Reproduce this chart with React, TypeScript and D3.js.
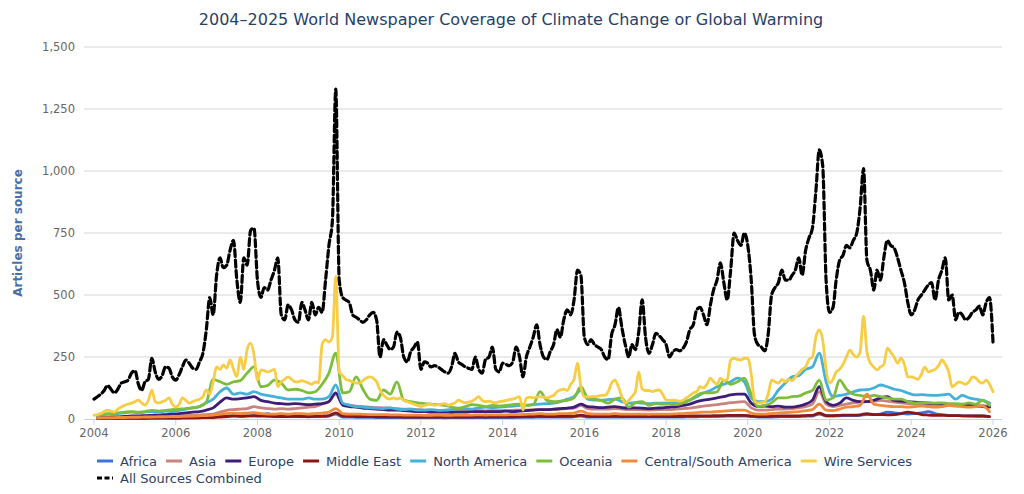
import { useEffect, useRef } from "react";
import * as d3 from "d3";

const WIDTH = 1024;
const HEIGHT = 494;

const title = "2004–2025 World Newspaper Coverage of Climate Change or Global Warming";
const yTitle = "Articles per source";
const yTicks = [0, 250, 500, 750, 1000, 1250, 1500];
const xTickYears = [2004, 2006, 2008, 2010, 2012, 2014, 2016, 2018, 2020, 2022, 2024, 2026];

// monthly, Jan 2004 .. Jan 2026
const allSources = [
  80, 90, 100, 115, 135, 120, 105, 120, 145, 150, 157, 185,
  195, 140, 115, 150, 160, 245, 190, 160, 175, 210, 205, 170,
  157, 180, 210, 238, 225, 205, 200, 230, 266, 360, 490, 420,
  580, 650, 610, 620, 680, 720, 560, 470, 650, 620, 760, 770,
  560, 490, 530, 520, 560, 600, 650, 420, 400, 460, 440, 400,
  390, 470, 440, 400, 470, 420, 450, 430, 560, 700, 800, 1330,
  560, 490, 480, 470, 420, 410, 400, 390, 400, 420, 430, 400,
  250, 320, 300, 280, 290, 350, 330, 250, 230, 270, 290, 310,
  200, 230, 225, 210, 215, 210, 200, 190, 185, 210, 265, 230,
  220, 210, 205, 200, 250, 200, 185, 240, 250, 290, 200, 190,
  225, 220, 215, 230, 290, 250, 170, 250, 290, 330, 380, 300,
  250, 240, 270, 300, 360, 330, 400, 440, 420, 480, 600, 580,
  330, 300, 320, 300, 290, 280, 250, 240, 340, 380, 450, 370,
  300, 250, 300, 280, 350, 480, 330, 265, 300, 345, 335, 320,
  300, 250, 270, 280, 275, 285, 310, 360, 380, 440, 450, 420,
  380, 460, 520, 560, 630, 550, 480, 600, 750, 720, 700, 750,
  700, 560, 340, 300, 290, 275, 340, 500, 530, 550, 600, 560,
  560, 580, 600, 650, 580, 680, 730, 770, 920, 1085, 1020, 560,
  430, 450, 560, 640, 660, 700, 690, 720, 750, 850, 1010, 640,
  600, 520, 600, 560, 650, 720, 700, 690, 650, 600, 550, 470,
  420, 440, 480, 500, 520, 540, 550, 480, 560, 600, 650, 480,
  500, 400, 430, 420, 400, 410, 430, 440, 455, 420, 470, 490,
  310,
];

// monthly, Jan 2004 .. Jan 2026
const wireServices = [
  15, 18, 22, 30, 36, 32, 28, 40, 48, 55, 60, 64,
  70, 76, 65, 56, 75, 117, 70, 65, 70, 75, 85, 60,
  48, 60, 85, 75, 64, 70, 75, 80, 90, 117, 100, 150,
  210, 200, 218, 205, 238, 200, 170, 250, 200, 280, 306, 260,
  157, 198, 195, 190, 195, 200, 130, 150, 160, 170, 160, 150,
  150, 155, 150, 145, 140, 150, 145, 300, 320, 310, 330, 575,
  190, 175, 160, 155, 150, 145, 145, 155, 165, 170, 165, 150,
  117, 95, 85, 80, 85, 80, 85, 75, 70, 65, 60, 55,
  50, 55, 58, 60, 55, 58, 60, 62, 55, 60, 65, 76,
  70, 65, 68, 72, 80, 90, 75, 70, 72, 68, 65, 70,
  72, 75, 78, 80, 85, 90, 36, 85, 88, 85, 88, 90,
  88, 85, 90, 95, 110, 117, 120, 115, 140, 160, 225, 130,
  90, 88, 90, 90, 92, 95, 95, 110, 145, 157, 130, 90,
  64, 75, 90, 110, 190, 120, 115, 115, 110, 115, 117, 100,
  76, 75, 76, 74, 72, 76, 85, 95, 105, 110, 130, 125,
  140, 165, 150, 140, 165, 155, 160, 238, 245, 240, 238, 245,
  245, 180, 76, 64, 66, 70, 100, 157, 150, 145, 160, 150,
  160, 155, 170, 185, 200, 210, 240, 250, 331, 359, 318, 200,
  145, 160, 190, 200, 220, 250, 278, 260, 250, 270, 415, 270,
  225, 210, 198, 210, 220, 286, 270, 250, 225, 245, 220, 170,
  170, 165, 160, 180, 210, 190, 195, 200, 215, 238, 220, 190,
  130, 140, 150, 145, 140, 150, 170, 165, 150, 145, 157, 140,
  110,
];

// every two months, Feb 2004 .. Dec 2025
const northAmerica = [
  15, 18, 20, 22, 25, 28,
  25, 28, 30, 28, 32, 30,
  35, 40, 45, 50, 65, 80,
  110, 125, 100, 105, 100, 110,
  100, 95, 90, 85, 80, 80,
  80, 85, 80, 80, 90, 137,
  64, 56, 50, 48, 45, 44,
  42, 45, 40, 38, 40, 36,
  36, 38, 35, 36, 38, 40,
  42, 40, 45, 48, 45, 48,
  50, 52, 55, 56, 58, 60,
  62, 64, 70, 80, 90, 117,
  80, 76, 76, 78, 80, 70,
  64, 66, 64, 62, 64, 64,
  64, 66, 70, 76, 90, 105,
  115, 130, 140, 150, 165, 150,
  85, 70, 70, 80, 117, 145,
  170, 175, 200, 210, 266, 150,
  90, 95, 100, 110, 117, 118,
  125, 137, 130, 120, 115, 105,
  97, 98, 96, 95, 97, 100,
  80, 95, 85, 80, 75, 64,
];

const oceania = [
  15, 20, 22, 25, 28, 30,
  28, 30, 35, 32, 35, 38,
  40, 42, 45, 50, 68, 160,
  150, 140, 150, 155, 185, 210,
  130, 135, 157, 145, 117, 120,
  115, 105, 110, 140, 185, 266,
  105, 110, 170, 120, 80, 75,
  117, 100, 150, 76, 70, 65,
  62, 60, 58, 55, 48, 44,
  50, 58, 55, 50, 55, 52,
  55, 58, 60, 55, 58, 110,
  75, 70, 72, 75, 85, 130,
  85, 80, 75, 64, 80, 85,
  48, 65, 70, 55, 62, 60,
  60, 58, 65, 76, 95, 105,
  105, 110, 157, 140, 150, 165,
  100, 50, 55, 65, 85, 85,
  90, 92, 105, 115, 157, 76,
  85, 157, 120, 100, 95, 90,
  95, 90, 85, 80, 80, 70,
  64, 65, 66, 64, 65, 62,
  62, 60, 65, 60, 76, 55,
];

const europe = [
  5, 6, 8, 8, 10, 12,
  12, 14, 15, 16, 18, 20,
  22, 25, 28, 30, 36, 45,
  68, 85, 80, 82, 85, 90,
  75, 70, 64, 62, 60, 62,
  60, 58, 60, 62, 70, 105,
  56, 50, 48, 44, 42, 40,
  38, 36, 36, 34, 32, 30,
  30, 28, 28, 28, 27, 28,
  28, 30, 30, 29, 30, 30,
  32, 30, 32, 34, 36, 38,
  38, 40, 42, 44, 48, 60,
  50, 48, 46, 48, 50, 46,
  44, 45, 44, 42, 44, 45,
  48, 50, 55, 60, 70, 76,
  80, 85, 90, 97, 100, 100,
  64, 50, 52, 50, 52, 48,
  48, 52, 60, 76, 130, 70,
  55, 64, 85, 75, 70, 70,
  75, 85, 90, 75, 72, 70,
  68, 66, 64, 62, 60, 58,
  56, 55, 54, 52, 50, 48,
];

const asia = [
  5, 6, 6, 7, 8, 8,
  8, 9, 10, 10, 11, 12,
  12, 14, 15, 16, 18, 20,
  28, 35, 38, 40, 42, 50,
  45, 42, 40, 42, 40, 42,
  45, 48, 50, 60, 70, 100,
  60, 56, 52, 50, 48, 46,
  45, 44, 42, 40, 40, 38,
  36, 35, 34, 34, 33, 32,
  32, 33, 34, 33, 34, 34,
  34, 35, 36, 36, 37, 38,
  38, 38, 40, 42, 44, 55,
  42, 40, 40, 40, 42, 40,
  38, 38, 37, 36, 37, 38,
  38, 40, 42, 44, 48, 52,
  55, 58, 62, 66, 68, 70,
  45, 36, 36, 38, 40, 40,
  42, 45, 50, 60, 110, 60,
  50, 55, 60, 65, 68, 70,
  72, 75, 72, 68, 65, 62,
  60, 60, 58, 58, 56, 58,
  58, 56, 55, 55, 54, 50,
];

const centralSouthAmerica = [
  4, 5, 5, 6, 6, 7,
  7, 8, 8, 9, 9, 10,
  10, 11, 12, 13, 14, 16,
  20, 22, 24, 22, 24, 26,
  22, 20, 20, 22, 20, 22,
  22, 20, 22, 24, 28, 42,
  22, 20, 20, 19, 18, 18,
  18, 17, 17, 16, 16, 16,
  15, 15, 16, 15, 15, 16,
  16, 16, 17, 16, 17, 17,
  17, 18, 18, 19, 20, 22,
  20, 20, 22, 22, 24, 32,
  22, 20, 20, 20, 22, 20,
  20, 20, 20, 19, 20, 20,
  20, 21, 22, 24, 26, 28,
  28, 30, 32, 34, 36, 36,
  24, 20, 20, 22, 24, 26,
  28, 30, 34, 38, 60, 36,
  34, 40, 48, 50, 55, 100,
  60, 55, 52, 50, 50, 48,
  50, 52, 50, 48, 50, 55,
  52, 50, 48, 50, 52, 30,
];

const middleEast = [
  2, 2, 3, 3, 3, 3,
  3, 3, 4, 4, 4, 4,
  4, 5, 5, 5, 6, 6,
  8, 10, 12, 11, 12, 14,
  12, 11, 10, 10, 10, 11,
  10, 10, 11, 12, 14, 25,
  12, 11, 10, 10, 10, 9,
  9, 9, 9, 8, 8, 8,
  8, 8, 8, 8, 8, 8,
  8, 8, 9, 8, 9, 9,
  9, 9, 9, 10, 10, 11,
  10, 10, 11, 11, 12, 16,
  11, 10, 10, 10, 11, 10,
  10, 10, 10, 10, 10, 10,
  10, 10, 11, 12, 12, 13,
  13, 14, 14, 15, 15, 15,
  12, 10, 10, 11, 12, 12,
  12, 13, 14, 15, 24, 14,
  14, 15, 16, 16, 17, 22,
  18, 18, 17, 18, 22, 28,
  24, 18, 16, 15, 15, 14,
  14, 13, 13, 12, 12, 10,
];

const africa = [
  2, 2, 2, 3, 3, 3,
  3, 3, 3, 4, 4, 4,
  4, 5, 5, 6, 7, 8,
  10, 12, 14, 12, 14, 12,
  14, 22, 12, 10, 10, 10,
  10, 9, 10, 10, 12, 20,
  8, 8, 7, 7, 7, 6,
  6, 6, 6, 6, 6, 6,
  6, 6, 6, 5, 6, 6,
  6, 6, 6, 6, 6, 6,
  6, 6, 7, 7, 7, 8,
  8, 8, 8, 8, 9, 12,
  8, 8, 8, 8, 8, 8,
  8, 8, 8, 8, 8, 8,
  8, 8, 8, 9, 9, 10,
  10, 10, 11, 12, 12, 12,
  10, 8, 8, 8, 9, 10,
  10, 10, 11, 12, 20, 12,
  12, 13, 14, 14, 15, 18,
  18, 20, 28, 25, 22, 20,
  22, 25, 30, 22, 18, 15,
  14, 13, 12, 12, 12, 10,
];

type Series = {
  name: string;
  color: string;
  values: number[];
  firstMonth: number;
  step: number;
  dashed?: boolean;
};

const series: Series[] = [
  { name: "Africa", color: "#3b73d9", values: africa, firstMonth: 1, step: 2 },
  { name: "Asia", color: "#c9837f", values: asia, firstMonth: 1, step: 2 },
  { name: "Europe", color: "#3d1d78", values: europe, firstMonth: 1, step: 2 },
  { name: "Middle East", color: "#8c1616", values: middleEast, firstMonth: 1, step: 2 },
  { name: "North America", color: "#45b0d8", values: northAmerica, firstMonth: 1, step: 2 },
  { name: "Oceania", color: "#7dbd3c", values: oceania, firstMonth: 1, step: 2 },
  { name: "Central/South America", color: "#ef8b3d", values: centralSouthAmerica, firstMonth: 1, step: 2 },
  { name: "Wire Services", color: "#f7cd45", values: wireServices, firstMonth: 0, step: 1 },
  { name: "All Sources Combined", color: "#000000", values: allSources, firstMonth: 0, step: 1, dashed: true },
];

const FONT = "'DejaVu Sans', sans-serif";

export default function App() {
  const svgRef = useRef<SVGSVGElement>(null);

  useEffect(() => {
    if (!svgRef.current) return;
    const svg = d3.select(svgRef.current);
    svg.selectAll("*").remove();

    const plotLeft = 84;
    const plotRight = 1002;
    const x = d3
      .scaleTime()
      .domain([new Date(2004, 0, 1), new Date(2026, 0, 1)])
      .range([94, 993]);
    const y = d3.scaleLinear().domain([0, 1500]).range([419, 47]);

    // title
    svg
      .append("text")
      .attr("x", 511)
      .attr("y", 25)
      .attr("text-anchor", "middle")
      .attr("font-family", FONT)
      .attr("font-size", 16)
      .attr("fill", "#263f69")
      .text(title);

    // grid + y labels
    const grid = svg.append("g");
    yTicks.forEach((t) => {
      if (t > 0) {
        grid
          .append("line")
          .attr("x1", plotLeft)
          .attr("x2", plotRight)
          .attr("y1", y(t))
          .attr("y2", y(t))
          .attr("stroke", "#d6d6d6")
          .attr("stroke-width", 1);
      }
      grid
        .append("text")
        .attr("x", 75)
        .attr("y", y(t) + 4)
        .attr("text-anchor", "end")
        .attr("font-family", FONT)
        .attr("font-size", 11.5)
        .attr("fill", "#666666")
        .text(d3.format(",")(t));
    });

    svg
      .append("text")
      .attr("transform", `translate(22,${y(750)}) rotate(-90)`)
      .attr("text-anchor", "middle")
      .attr("font-family", FONT)
      .attr("font-size", 12)
      .attr("font-weight", "bold")
      .attr("fill", "#4a6fa8")
      .text(yTitle);

    // x axis
    const axis = svg.append("g");
    axis
      .append("line")
      .attr("x1", plotLeft)
      .attr("x2", plotRight)
      .attr("y1", 419.5)
      .attr("y2", 419.5)
      .attr("stroke", "#c8d2e6");
    xTickYears.forEach((yr) => {
      const px = x(new Date(yr, 0, 1));
      axis
        .append("line")
        .attr("x1", px)
        .attr("x2", px)
        .attr("y1", 419.5)
        .attr("y2", 425)
        .attr("stroke", "#c8d2e6");
      axis
        .append("text")
        .attr("x", px)
        .attr("y", 437)
        .attr("text-anchor", "middle")
        .attr("font-family", FONT)
        .attr("font-size", 11.5)
        .attr("fill", "#666666")
        .text(yr);
    });

    // lines
    const line = d3
      .line<[Date, number]>()
      .x((d) => x(d[0]))
      .y((d) => y(d[1]))
      .curve(d3.curveMonotoneX);

    series.forEach((s) => {
      const pts: [Date, number][] = s.values.map((v, i) => [
        new Date(2004, s.firstMonth + i * s.step, 1),
        v,
      ]);
      svg
        .append("path")
        .datum(pts)
        .attr("fill", "none")
        .attr("stroke", s.color)
        .attr("stroke-width", s.dashed ? 3.2 : 2.8)
        .attr("stroke-dasharray", s.dashed ? "7,3.5" : null)
        .attr("stroke-linejoin", "round")
        .attr("stroke-linecap", "round")
        .attr("d", line);
    });

    // legend
    const legend = svg.append("g");
    let lx = 97;
    let ly = 461;
    series.forEach((s, i) => {
      if (i === 8) {
        lx = 97;
        ly = 478;
      }
      const item = legend.append("g").attr("transform", `translate(${lx},${ly})`);
      item
        .append("line")
        .attr("x1", 0)
        .attr("x2", 16)
        .attr("y1", 0)
        .attr("y2", 0)
        .attr("stroke", s.color)
        .attr("stroke-width", 3)
        .attr("stroke-dasharray", s.dashed ? "5,2.5" : null);
      const txt = item
        .append("text")
        .attr("x", 23)
        .attr("y", 4.5)
        .attr("font-family", FONT)
        .attr("font-size", 13)
        .attr("fill", "#2e4266")
        .text(s.name);
      const w = (txt.node() as SVGTextElement).getComputedTextLength();
      lx += 23 + w + 9;
    });
  }, []);

  return (
    <div style={{ position: "absolute", left: 0, top: 0 }}>
      <svg ref={svgRef} width={WIDTH} height={HEIGHT} style={{ display: "block", background: "#fff" }} />
    </div>
  );
}
